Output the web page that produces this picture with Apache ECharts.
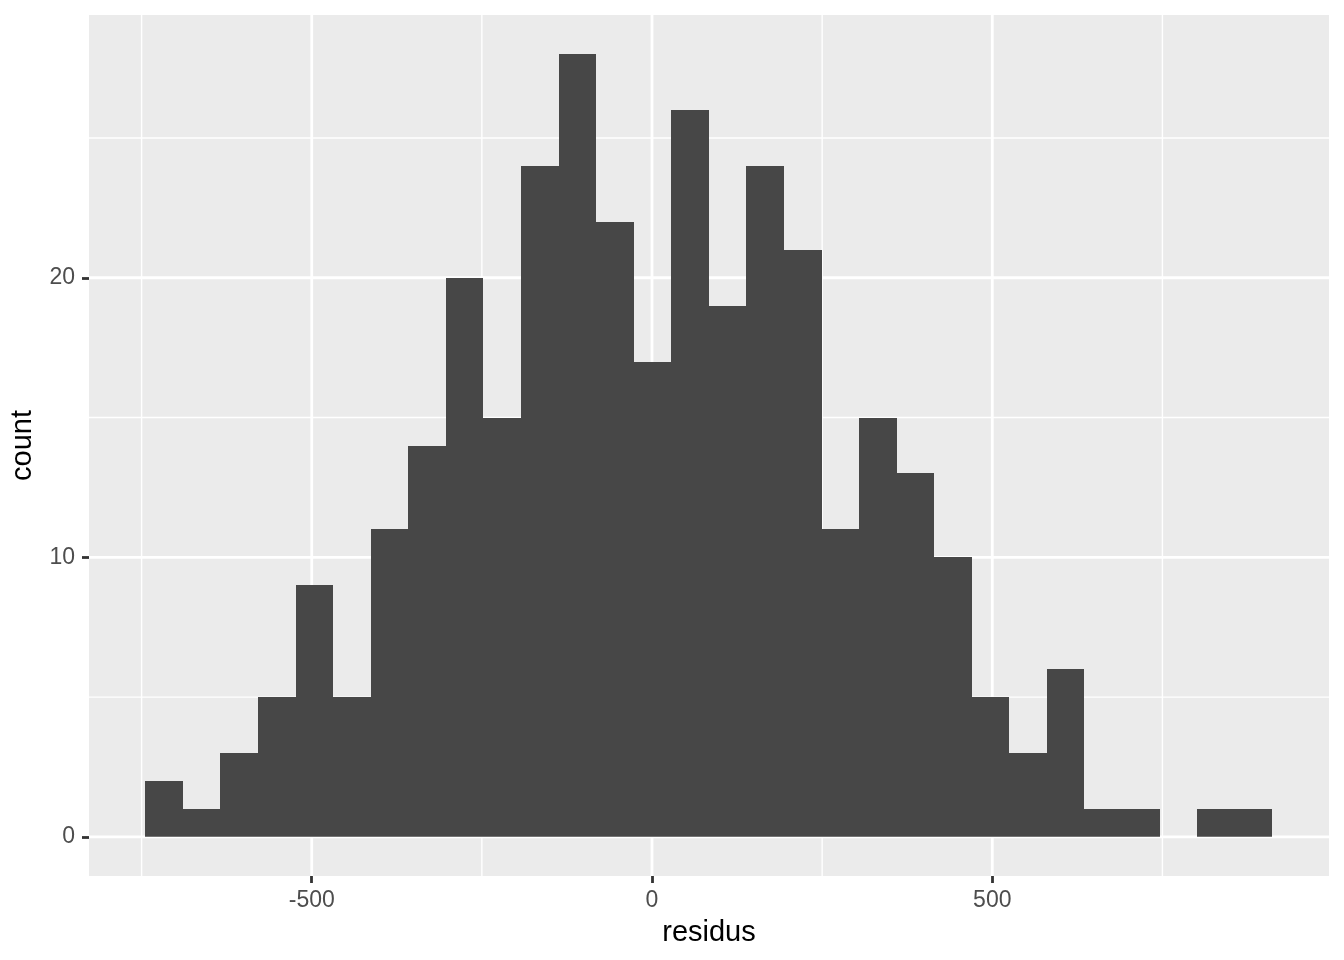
<!DOCTYPE html>
<html>
<head>
<meta charset="utf-8">
<script src="https://cdn.jsdelivr.net/npm/echarts@6/dist/echarts.min.js"></script>
<style>
html,body{margin:0;padding:0;background:#fff;}
#chart{width:1344px;height:960px;}
</style>
</head>
<body>
<div id="chart"></div>
<script>
// Histogram of residuals: 30 bins
const binStart = -744.5;
const binWidth = 55.2;
const counts = [2, 1, 3, 5, 9, 5, 11, 14, 20, 15, 24, 28, 22, 17, 26, 19, 24, 21, 11, 15, 13, 10, 5, 3, 6, 1, 1, 0, 1, 1];
const xMajorTicks = [-500, 0, 500];
const xMinorTicks = [-750, -250, 250, 750];
const yMajorTicks = [0, 10, 20];
const yMinorTicks = [5, 15, 25];
const xRange = [-827.3, 994.8];
const yRange = [-1.4, 29.4];

const barData = counts.map((c, i) => [binStart + i * binWidth, binStart + (i + 1) * binWidth, c]);

const gridData = [];
xMinorTicks.forEach(v => gridData.push([v, 0, 0]));
yMinorTicks.forEach(v => gridData.push([v, 1, 0]));
xMajorTicks.forEach(v => gridData.push([v, 0, 1]));
yMajorTicks.forEach(v => gridData.push([v, 1, 1]));

const chart = echarts.init(document.getElementById('chart'));
const font = '"Liberation Sans", Arial, Helvetica, sans-serif';

chart.setOption({
  animation: false,
  backgroundColor: '#ffffff',
  grid: {
    left: 88, right: 15, top: 15, bottom: 84,
    show: true, backgroundColor: '#EBEBEB', borderWidth: 0
  },
  xAxis: {
    type: 'value',
    position: 'bottom',
    min: xRange[0], max: xRange[1],
    name: 'residus',
    nameLocation: 'middle',
    nameGap: 42,
    nameTextStyle: { color: '#000', fontSize: 29, fontFamily: font },
    axisLine: { show: false, onZero: false },
    axisTick: { show: true, length: 7, customValues: xMajorTicks, lineStyle: { color: '#333333', width: 2.8 } },
    axisLabel: { customValues: xMajorTicks, color: '#4D4D4D', fontSize: 23, fontFamily: font, margin: 13 },
    splitLine: { show: false }
  },
  yAxis: {
    type: 'value',
    position: 'left',
    min: yRange[0], max: yRange[1],
    name: 'count',
    nameLocation: 'middle',
    nameGap: 52,
    nameTextStyle: { color: '#000', fontSize: 29, fontFamily: font },
    axisLine: { show: false, onZero: false },
    axisTick: { show: true, length: 7, customValues: yMajorTicks, lineStyle: { color: '#333333', width: 2.8 } },
    axisLabel: { customValues: yMajorTicks, color: '#4D4D4D', fontSize: 23, fontFamily: font, margin: 14 },
    splitLine: { show: false }
  },
  series: [
    {
      type: 'custom',
      silent: true,
      z: 1,
      data: gridData,
      renderItem: function (params, api) {
        const cs = params.coordSys;
        const v = api.value(0), dir = api.value(1), major = api.value(2);
        let shape;
        if (dir === 0) {
          const px = api.coord([v, 0])[0];
          shape = { x1: px, y1: cs.y, x2: px, y2: cs.y + cs.height };
        } else {
          const py = api.coord([0, v])[1];
          shape = { x1: cs.x, y1: py, x2: cs.x + cs.width, y2: py };
        }
        return {
          type: 'line',
          shape: shape,
          style: { stroke: '#FFFFFF', lineWidth: major ? 2.8 : 1.4 }
        };
      }
    },
    {
      type: 'custom',
      z: 2,
      data: barData,
      renderItem: function (params, api) {
        if (api.value(2) <= 0) return null;
        const p0 = api.coord([api.value(0), api.value(2)]);
        const p1 = api.coord([api.value(1), 0]);
        const x0 = Math.round(p0[0]), x1 = Math.round(p1[0]);
        const y0 = Math.round(p0[1]), y1 = p1[1];
        return {
          type: 'rect',
          shape: { x: x0, y: y0, width: x1 - x0, height: y1 - y0 },
          style: { fill: '#474747', stroke: null }
        };
      }
    }
  ]
});
</script>
</body>
</html>
